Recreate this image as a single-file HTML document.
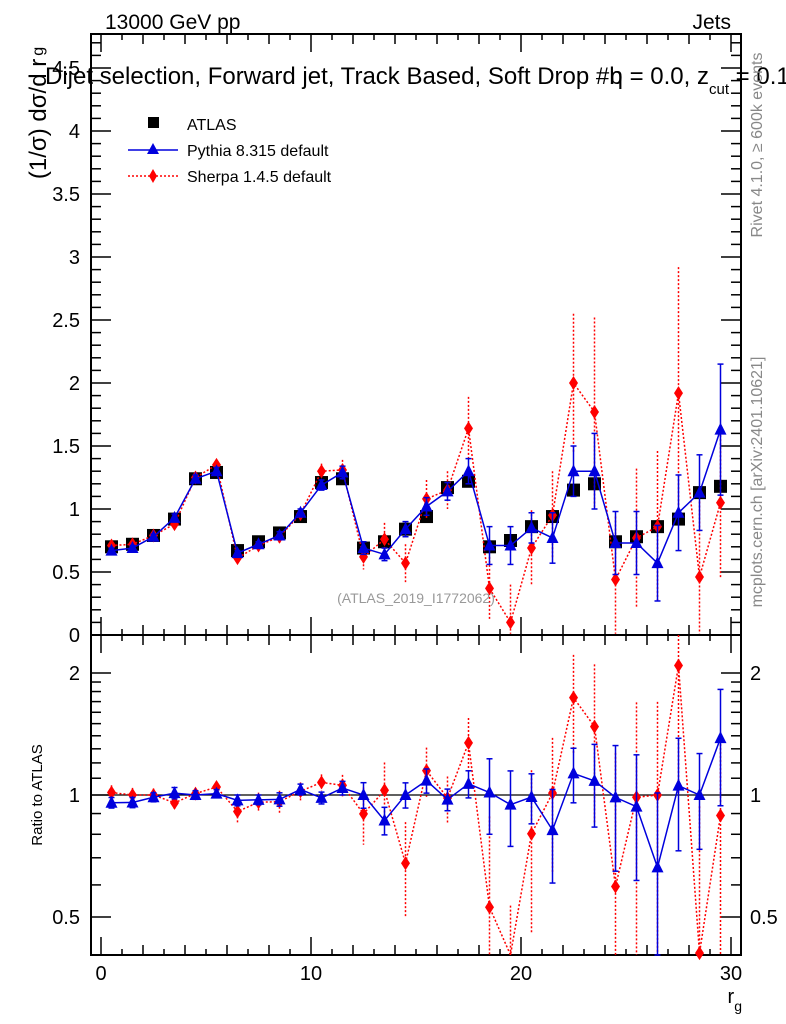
<!DOCTYPE html>
<html><head><meta charset="utf-8"><style>
body{margin:0;background:#fff}
svg{display:block;font-family:"Liberation Sans",sans-serif}
</style></head><body>
<svg id="c" width="786" height="1024" xmlns="http://www.w3.org/2000/svg">
<rect width="786" height="1024" fill="#fff"/>
<g id="main"></g>
<g id="ratio"></g>
<text x="105" y="29" font-size="21">13000 GeV pp</text>
<text x="731" y="29" font-size="21" text-anchor="end">Jets</text>
<text x="45" y="84" font-size="24">Dijet selection, Forward jet, Track Based, Soft Drop #b<tspan dx="-13">η = 0.0, z</tspan><tspan font-size="15" dy="10">cut</tspan><tspan dy="-10"> = 0.1</tspan></text>
<text transform="translate(46,113) rotate(-90)" font-size="24" text-anchor="middle">(1/σ) dσ/d r<tspan font-size="16" dy="-3" dx="3">g</tspan></text>
<text transform="translate(42,795) rotate(-90)" font-size="15" text-anchor="middle">Ratio to ATLAS</text>
<text x="742" y="1003" font-size="20" text-anchor="end">r<tspan font-size="14" dy="8">g</tspan></text>
<text transform="translate(762,145) rotate(-90)" font-size="16" fill="#888" text-anchor="middle">Rivet 4.1.0, ≥ 600k events</text>
<text transform="translate(762,482) rotate(-90)" font-size="16" fill="#888" text-anchor="middle">mcplots.cern.ch [arXiv:2401.10621]</text>
<text x="416" y="603" font-size="14" fill="#999" text-anchor="middle">(ATLAS_2019_I1772062)</text>
<g>
<rect x="148" y="117" width="11" height="11" fill="#000"/>
<text x="187" y="130" font-size="16">ATLAS</text>
<line x1="128" y1="150" x2="178" y2="150" stroke="#00d" stroke-width="1.5"/>
<polygon points="153,143 147,154 159,154" fill="#00d"/>
<text x="187" y="156" font-size="16">Pythia 8.315 default</text>
<line x1="128" y1="176" x2="178" y2="176" stroke="#f00" stroke-width="1.5" stroke-dasharray="2,2"/>
<polygon points="153,169 157,176 153,183 149,176" fill="#f00"/>
<text x="187" y="182" font-size="16">Sherpa 1.4.5 default</text>
</g>
</svg>
<script>
const xCenters=[0.5,1.5,2.5,3.5,4.5,5.5,6.5,7.5,8.5,9.5,10.5,11.5,12.5,13.5,14.5,15.5,16.5,17.5,18.5,19.5,20.5,21.5,22.5,23.5,24.5,25.5,26.5,27.5,28.5,29.5];
const atlasVals=[0.70,0.72,0.79,0.92,1.24,1.29,0.67,0.74,0.81,0.94,1.21,1.24,0.69,0.74,0.84,0.94,1.17,1.22,0.70,0.75,0.86,0.94,1.15,1.20,0.74,0.78,0.86,0.92,1.13,1.18];
const pythiaVals=[0.67,0.69,0.78,0.93,1.24,1.30,0.65,0.72,0.79,0.97,1.19,1.29,0.69,0.64,0.84,1.02,1.14,1.30,0.71,0.71,0.85,0.77,1.30,1.30,0.73,0.73,0.57,0.97,1.13,1.63];
const pythiaErr=[0.02,0.02,0.02,0.03,0.03,0.03,0.02,0.02,0.03,0.03,0.04,0.05,0.05,0.05,0.06,0.07,0.07,0.1,0.15,0.15,0.12,0.2,0.2,0.3,0.25,0.25,0.3,0.3,0.3,0.52];
const sherpaVals=[0.71,0.72,0.79,0.88,1.25,1.35,0.61,0.71,0.78,0.96,1.30,1.31,0.62,0.76,0.57,1.08,1.15,1.64,0.37,0.10,0.69,0.95,2.00,1.77,0.44,0.77,0.86,1.92,0.46,1.05];
const sherpaErr=[0.03,0.03,0.03,0.04,0.04,0.04,0.04,0.04,0.05,0.05,0.06,0.08,0.1,0.13,0.15,0.15,0.15,0.25,0.25,0.3,0.3,0.35,0.55,0.75,0.5,0.55,0.6,1.0,0.6,0.6];
const xTickLabels=["0","10","20","30"];
const yTickLabels=["0","0.5","1","1.5","2","2.5","3","3.5","4","4.5"];
const ratioTickLabels=["0.5","1","2"];

const NS="http://www.w3.org/2000/svg";
const L=91,R=741,T=34,MB=635,RB=955;
const X=v=>101+v*21;
const Y=v=>635-v*126;
const YR=v=>795-122*Math.log2(v);
function mk(p,tag,a){const e=document.createElementNS(NS,tag);for(const k in a)e.setAttribute(k,a[k]);p.appendChild(e);return e;}
const main=document.getElementById('main'),ratio=document.getElementById('ratio');

let f=mk(main,'rect',{x:L,y:T,width:R-L,height:MB-T,fill:'none',stroke:'#000','stroke-width':2});

f=mk(ratio,'rect',{x:L,y:MB,width:R-L,height:RB-MB,fill:'none',stroke:'#000','stroke-width':2});


for(let i=0;i<=30;i++){
  const len=i%10==0?18:(i%2==0?10:6),x=X(i);
  for(const [y0,d] of [[MB,-1],[T,1],[RB,-1],[MB,1]]){
    const t=mk(main,'line',{x1:x,x2:x,y1:y0,y2:y0+d*len,stroke:'#000','stroke-width':1.5});
    
  }
}
xTickLabels.forEach(s=>{const t=mk(ratio,'text',{x:X(+s),y:980,'font-size':20,'text-anchor':'middle'});t.textContent=s;
});
for(let i=0;i<=47;i++){
  const v=i/10,y=Y(v);if(y<T)continue;const len=i%5==0?20:10;
  for(const [x0,d] of [[L,1],[R,-1]]){
    const t=mk(main,'line',{x1:x0,x2:x0+d*len,y1:y,y2:y,stroke:'#000','stroke-width':1.5});
    
  }
}
yTickLabels.forEach(s=>{const t=mk(main,'text',{x:80,y:Y(+s)+7,'font-size':20,'text-anchor':'end'});t.textContent=s;
});
[0.5,0.6,0.7,0.8,0.9,1,1.1,1.2,1.3,1.4,1.5,1.6,1.7,1.8,1.9,2].forEach(v=>{
  const y=YR(v),len=(v==0.5||v==1||v==2)?20:10;
  for(const [x0,d] of [[L,1],[R,-1]]){
    const t=mk(ratio,'line',{x1:x0,x2:x0+d*len,y1:y,y2:y,stroke:'#000','stroke-width':1.5});
    
  }
});
ratioTickLabels.forEach(s=>{
  for(const [x,a] of [[80,'end'],[750,'start']]){
  const t=mk(ratio,'text',{x:x,y:YR(+s)+7,'font-size':20,'text-anchor':a});t.textContent=s;
  }
});
let rl=mk(ratio,'line',{x1:L,x2:R,y1:YR(1),y2:YR(1),stroke:'#000','stroke-width':1.2});


const clipY=(y,top,bot)=>Math.max(top,Math.min(bot,y));
function series(g,vals,errs,color,dash,shape,ys,top,bot,name){
  const pts=vals.map((v,i)=>[X(xCenters[i]),clipY(ys(v),top,bot)]);
  const pl=mk(g,'polyline',{points:pts.map(p=>p.join(',')).join(' '),fill:'none',stroke:color,'stroke-width':1.5,'stroke-dasharray':dash});
  
  vals.forEach((v,i)=>{
    const x=X(xCenters[i]);
    if(errs){const lo=Math.max(v-errs[i],0.01);
      const e=mk(g,'line',{x1:x,x2:x,y1:clipY(ys(v+errs[i]),top,bot),y2:clipY(ys(lo),top,bot),stroke:color,'stroke-width':1.5,'stroke-dasharray':dash});
      
      if(!dash){[v+errs[i],lo].forEach(q=>{const c=mk(g,'line',{x1:x-3,x2:x+3,y1:clipY(ys(q),top,bot),y2:clipY(ys(q),top,bot),stroke:color,'stroke-width':1.5});
        });}
    }
    const y=ys(v);if(y<top||y>bot)return;
    let m;
    if(shape=='tri')m=mk(g,'polygon',{points:`${x},${y-7} ${x-6},${y+5} ${x+6},${y+5}`,fill:color});
    else m=mk(g,'polygon',{points:`${x},${y-7} ${x+4.5},${y} ${x},${y+7} ${x-4.5},${y}`,fill:color});
    
  });
}
const atlasG=mk(main,'g',{});
atlasVals.forEach((v,i)=>{const x=X(xCenters[i]);const m=mk(atlasG,'rect',{x:x-6.5,y:Y(v)-6.5,width:13,height:13,fill:'#000'});
});
series(main,sherpaVals,sherpaErr,'#f00','2,2','dia',Y,T,MB,'sherpa');
series(main,pythiaVals,pythiaErr,'#00d','','tri',Y,T,MB,'pythia');
const pR=pythiaVals.map((v,i)=>v/atlasVals[i]),pRE=pythiaErr.map((e,i)=>e/atlasVals[i]);
const sR=sherpaVals.map((v,i)=>v/atlasVals[i]),sRE=sherpaErr.map((e,i)=>e/atlasVals[i]);
series(ratio,sR,sRE,'#f00','2,2','dia',YR,MB,RB,'sherpa-ratio');
series(ratio,pR,pRE,'#00d','','tri',YR,MB,RB,'pythia-ratio');
</script>
</body></html>
